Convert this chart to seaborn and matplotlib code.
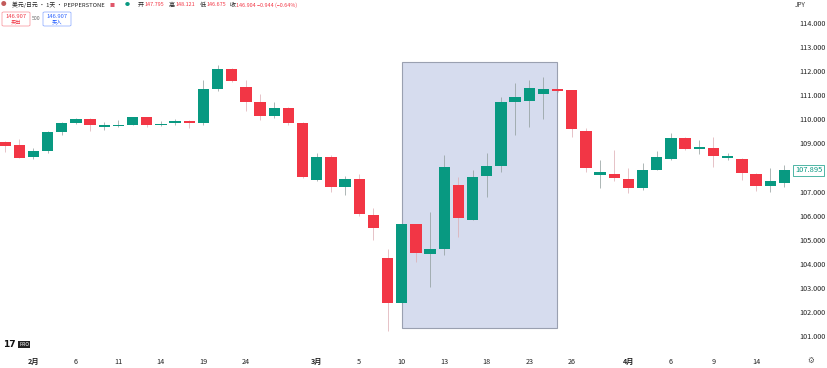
import matplotlib
matplotlib.use('Agg')
import matplotlib.pyplot as plt
from matplotlib.patches import Rectangle, FancyBboxPatch
import numpy as np
import pandas as pd
import seaborn as sns

# daily candles
opens = [109.06, 108.93, 108.43, 108.68, 109.47, 109.83, 110.01, 109.68, 109.72, 109.78, 110.08, 109.76, 109.85, 109.93,
         109.85, 111.26, 112.09, 111.34, 110.72, 110.12, 110.47, 109.85, 107.48, 108.43, 107.19, 107.52, 106.03, 104.24,
         102.37, 105.65, 104.41, 104.61, 107.27, 105.82, 107.65, 108.06, 110.72, 110.76, 111.05, 111.24, 111.22, 109.52,
         107.69, 107.73, 107.52, 107.15, 107.90, 108.35, 109.22, 108.77, 108.81, 108.41, 108.35, 107.73, 107.23, 107.36]
closes = [108.90, 108.39, 108.68, 109.47, 109.85, 110.01, 109.76, 109.76, 109.78, 110.08, 109.78, 109.80, 109.93, 109.85,
          111.26, 112.09, 111.59, 110.72, 110.14, 110.45, 109.85, 107.60, 108.43, 107.19, 107.52, 106.07, 105.49, 102.37,
          105.65, 104.45, 104.61, 108.02, 105.90, 107.60, 108.06, 110.72, 110.93, 111.30, 111.26, 111.18, 109.60, 107.98,
          107.81, 107.56, 107.15, 107.90, 108.43, 109.22, 108.77, 108.85, 108.48, 108.46, 107.77, 107.23, 107.44, 107.90]
highs = [109.10, 109.18, 108.81, 109.52, 109.89, 110.05, 110.05, 109.89, 109.97, 110.10, 110.10, 109.93, 110.01, 109.97,
         111.63, 112.26, 112.13, 111.63, 111.05, 110.72, 110.51, 109.89, 108.60, 108.52, 107.65, 107.73, 106.32, 104.61,
         105.65, 105.65, 106.15, 108.52, 107.60, 107.90, 108.60, 110.93, 111.51, 111.63, 111.76, 111.26, 111.22, 109.64,
         108.31, 108.73, 107.98, 108.19, 108.68, 109.43, 109.27, 109.14, 109.27, 108.60, 108.39, 107.77, 107.98, 108.10]
lows = [108.64, 108.39, 108.35, 108.60, 109.35, 109.80, 109.51, 109.56, 109.68, 109.76, 109.68, 109.72, 109.76, 109.64,
        109.76, 111.18, 111.55, 110.35, 109.97, 110.06, 109.76, 107.56, 107.44, 106.98, 106.86, 105.99, 104.99, 101.21,
        102.37, 104.07, 103.04, 104.37, 105.11, 105.80, 106.77, 107.81, 109.35, 109.68, 110.01, 111.13, 109.27, 107.81,
        107.15, 107.44, 106.94, 107.07, 107.88, 108.33, 108.73, 108.56, 108.02, 108.31, 107.48, 107.02, 106.98, 107.19]

y_ticks = [114, 113, 112, 111, 110, 109, 107, 106, 105, 104, 103, 102, 101]
x_tick_pos = [2, 5, 8, 11, 14, 17, 22, 25, 28, 31, 34, 37, 40, 44, 47, 50, 53]
x_tick_labels = ['2月', '6', '11', '14', '19', '24', '3月', '5', '10', '13', '18', '23', '26', '4月', '6', '9', '14']
last_price = 107.895

GREEN = '#089981'
RED = '#f23645'

df = pd.DataFrame({'day': range(len(opens)), 'open': opens, 'close': closes, 'high': highs, 'low': lows})
df['top'] = df[['open', 'close']].max(axis=1)
df['bottom'] = df[['open', 'close']].min(axis=1)
df['size'] = df['top'] - df['bottom']
up = df[df['close'] >= df['open']]
down = df[df['close'] < df['open']]

sns.set_style('white')
plt.rcParams['font.family'] = ['Noto Sans CJK SC', 'DejaVu Sans']

fig = plt.figure(figsize=(8.28, 3.68), dpi=100)
ax = fig.add_axes([0, 1 - 350 / 368, 792 / 828, 350 / 368])

# highlighted range, behind the candles
ax.add_patch(Rectangle((28.05, 101.33), 10.94, 11.05, facecolor='#d6dcee', edgecolor='#9aa0b0', linewidth=0.8, zorder=0))

ax.vlines(up['day'], up['low'], up['high'], color='#8d9a98', linewidth=0.5, zorder=1)
ax.vlines(down['day'], down['low'], down['high'], color='#dcaab0', linewidth=0.5, zorder=1)

sns.barplot(data=up, x='day', y='size', bottom=up['bottom'].values, native_scale=True, color=GREEN, saturation=1,
            width=0.8, errorbar=None, linewidth=0, ax=ax, zorder=2)
sns.barplot(data=down, x='day', y='size', bottom=down['bottom'].values, native_scale=True, color=RED, saturation=1,
            width=0.8, errorbar=None, linewidth=0, ax=ax, zorder=2)

ax.set_xlim(-0.353, 55.54)
ax.set_ylim(100.42, 114.955)
sns.despine(ax=ax, left=True, bottom=True, right=True, top=True)
ax.set_xlabel('')
ax.set_ylabel('')

ax.yaxis.tick_right()
ax.set_yticks(y_ticks)
ax.set_yticklabels([f'{v:.3f}' for v in y_ticks], fontsize=5.2, color='#222222')
ax.tick_params(axis='y', length=0, pad=5)
ax.set_xticks(x_tick_pos)
ax.set_xticklabels(x_tick_labels, fontsize=5.2, color='#222222')
for lab in ax.get_xticklabels():
    if '月' in lab.get_text():
        lab.set_fontweight('bold')
ax.tick_params(axis='x', length=0, pad=5.5)

# last price tag
fig.text(809 / 828, 1 - 170.5 / 368, f'{last_price:.3f}', fontsize=5.4, color=GREEN, ha='center', va='center',
         bbox=dict(boxstyle='square,pad=0.25', facecolor='white', edgecolor=GREEN, linewidth=0.5))

# header line
fig.text(12 / 828, 1 - 5 / 368, '美元/日元 · 1天 · PEPPERSTONE', fontsize=4.2, color='#222222', va='center')
fig.text(4 / 828, 1 - 5 / 368, '●', fontsize=4, color='#c25a5a', va='center', ha='center')
fig.text(112 / 828, 1 - 5 / 368, '■', fontsize=3.6, color='#e0566a', va='center', ha='center')
fig.text(127 / 828, 1 - 5 / 368, '●', fontsize=3.6, color=GREEN, va='center', ha='center')
fig.text(138 / 828, 1 - 5 / 368, '开', fontsize=4.4, color='#222222', va='center')
fig.text(144.5 / 828, 1 - 5 / 368, '147.795', fontsize=3.9, color=RED, va='center')
fig.text(169 / 828, 1 - 5 / 368, '高', fontsize=4.4, color='#222222', va='center')
fig.text(175.5 / 828, 1 - 5 / 368, '148.121', fontsize=3.9, color=RED, va='center')
fig.text(200 / 828, 1 - 5 / 368, '低', fontsize=4.4, color='#222222', va='center')
fig.text(206.5 / 828, 1 - 5 / 368, '146.675', fontsize=3.9, color=RED, va='center')
fig.text(230 / 828, 1 - 5 / 368, '收', fontsize=4.4, color='#222222', va='center')
fig.text(236.5 / 828, 1 - 5 / 368, '146.904 −0.944 (−0.64%)', fontsize=3.9, color=RED, va='center')
fig.text(800 / 828, 1 - 5 / 368, 'JPY', fontsize=4.6, color='#333333', ha='center', va='center')

# sell / buy buttons
for x0, col, word in [(2, RED, '卖出'), (43, '#2962ff', '买入')]:
    fig.add_artist(FancyBboxPatch((x0 / 828, 1 - 26 / 368), 28 / 828, 14 / 368, boxstyle='round,pad=0,rounding_size=0.002',
                                  transform=fig.transFigure, facecolor='white', edgecolor=col, linewidth=0.4, alpha=0.7))
    fig.text((x0 + 14) / 828, 1 - 16 / 368, '146.907', fontsize=4.2, color=col, ha='center', va='center')
    fig.text((x0 + 14) / 828, 1 - 22 / 368, word, fontsize=3.8, color=col, ha='center', va='center')
fig.text(36.5 / 828, 1 - 19 / 368, '500', fontsize=3.8, color='#666666', ha='center', va='center')

# logo and gear
fig.text(3 / 828, 1 - 344.5 / 368, '17', fontsize=6.5, fontweight='bold', color='#111111', va='center', family=['DejaVu Sans'])
fig.text(24.5 / 828, 1 - 344.5 / 368, 'PRO', fontsize=3.6, color='white', ha='center', va='center',
         bbox=dict(boxstyle='square,pad=0.2', facecolor='#222222', edgecolor='none'))
fig.text(811 / 828, 1 - 360 / 368, '⚙', fontsize=5.5, color='#555555', family=['DejaVu Sans'], ha='center', va='center')

fig.savefig('out.png', dpi=100)
